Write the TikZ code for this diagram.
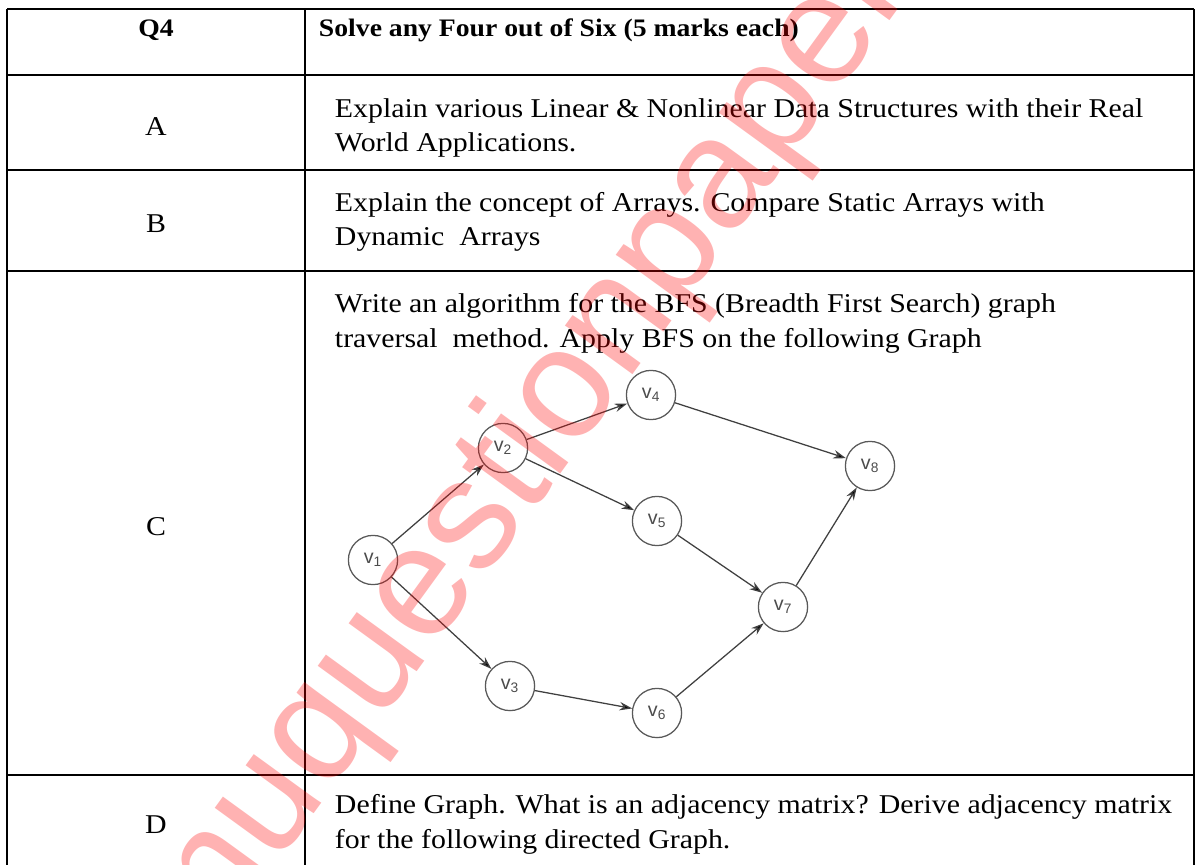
\documentclass[tikz,border=0pt]{standalone}
\usepackage{fontspec}
\setmainfont{Liberation Serif}[FakeStretch=1.1]
\setsansfont{Liberation Sans}
\usetikzlibrary{arrows.meta}

\begin{document}
\begin{tikzpicture}[x=0.025cm,y=-0.025cm,line width=1.4pt,
  >={Stealth[length=9pt,width=6pt]},
  qno/.style={anchor=base,font=\fontsize{19.3}{24.2}\selectfont},
  qtext/.style={anchor=base west,align=left,inner sep=0pt,font=\fontsize{19.3}{24.2}\selectfont},
  vertex/.style={circle,draw=black!65,line width=0.9pt,minimum size=35pt,inner sep=0pt,
    text=black!70,font=\sffamily\fontsize{14}{14}\selectfont}]
  \useasboundingbox (0,0) rectangle (1200,865);

  % table rules
  \foreach \y in {9,75,170,271,775}
    \draw (7,\y) -- (1194,\y);
  \foreach \x in {7,305,1194}
    \draw (\x,9) -- (\x,865);

  % header row
  \node[qno,font=\bfseries\fontsize{17.9}{22}\selectfont] (q4) at (156,37) {Q4};
  \node[qtext,font=\bfseries\fontsize{17.9}{22}\selectfont] (head) at (318,37) {Solve any Four out of Six (5 marks each)};

  % questions (base = last line)
  \node[qno] (qa) at (156,136) {A};
  \node[qtext] (ta) at (334,152) {Explain various Linear \& Nonlinear Data Structures with their Real\\World Applications.};
  \node[qno] (qb) at (156,233) {B};
  \node[qtext] (tb) at (334,246) {Explain the concept of Arrays. Compare Static Arrays with\\Dynamic\ \ Arrays};
  \node[qno] (qc) at (156,535) {C};
  \node[qtext] (tc) at (334,347) {Write an algorithm for the BFS (Breadth First Search) graph\\traversal\ \ method. Apply BFS on the following Graph};
  \node[qno] (qd) at (156,833) {D};
  \node[qtext] (td) at (334,848) {Define Graph. What is an adjacency matrix? Derive adjacency matrix\\for the following directed Graph.};

  % graph for BFS
  \node[vertex] (v1) at (373,560) {v\textsubscript{1}};
  \node[vertex] (v2) at (503,448) {v\textsubscript{2}};
  \node[vertex] (v3) at (510,686) {v\textsubscript{3}};
  \node[vertex] (v4) at (651,395) {v\textsubscript{4}};
  \node[vertex] (v5) at (657,521) {v\textsubscript{5}};
  \node[vertex] (v6) at (657,713) {v\textsubscript{6}};
  \node[vertex] (v7) at (783,607) {v\textsubscript{7}};
  \node[vertex] (v8) at (870,466) {v\textsubscript{8}};

  \path[->,draw=black!75,line width=0.9pt]
    (v1) edge (v2)
         edge (v3)
    (v2) edge (v4)
         edge (v5)
    (v4) edge (v8)
    (v5) edge (v7)
    (v3) edge (v6)
    (v6) edge (v7)
    (v7) edge (v8);

  % watermark
  \node[rotate=54,red,opacity=0.3,inner sep=0pt,
    font=\sffamily\fontsize{112}{112}\selectfont] (mark) at (524,455) {muquestionpaper};
\end{tikzpicture}
\end{document}
